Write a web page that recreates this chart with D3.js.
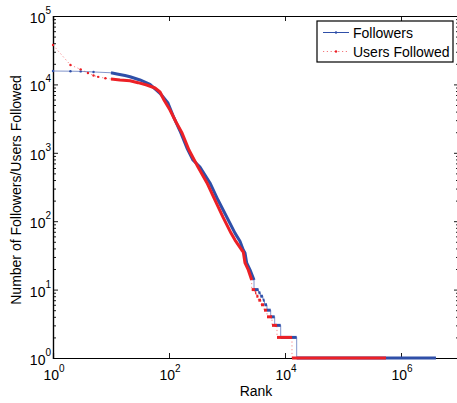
<!DOCTYPE html>
<html>
<head>
<meta charset="utf-8">
<script src="https://cdn.jsdelivr.net/npm/d3@7"></script>
<style>
  body { margin: 0; background: #fff; }
  text { font-family: "Liberation Sans", Arial, Helvetica, sans-serif; fill: #000; }
</style>
</head>
<body>
<div id="main"></div>
<script>
// tick labels (exponents of 10)
var xTickExp = [0, 2, 4, 6];
var yTickExp = [0, 1, 2, 3, 4, 5];

// Followers: continuous part (rank, count)
var followersRank  = [1, 2, 3, 5, 10, 12.7, 17.4, 21.3, 31.6, 47, 70, 96, 122, 155, 204, 259, 342, 509, 700, 980, 1374, 1675, 1910, 2044, 2186, 2493, 2924];
var followersCount = [15700, 15600, 15500, 15200, 14800, 14200, 13500, 12950, 11600, 10000, 7410, 5350, 3230, 2080, 1175, 785, 620, 362, 204, 117, 67, 51, 38, 34.3, 24.5, 19.4, 13.8];
// Followers: integer tail, value and the rank where that value ends
var followersStepValue = [10, 9, 8, 7, 6, 5, 4, 3, 2, 1];
var followersStepEnd   = [3494, 3763, 4160, 4434, 4896, 5668, 6640, 8427, 15900, 4000000];

// Users Followed
var followedRank  = [1, 2, 3, 4, 5, 6, 8, 10, 14.3, 21.3, 29.2, 41.3, 57.3, 70, 82, 104, 132, 168, 221, 316, 452, 621, 853, 1172, 1374, 1791, 1910, 2044, 2329, 2665];
var followedCount = [37700, 19200, 16600, 14700, 13500, 12900, 12300, 12000, 11600, 11300, 10600, 9800, 8860, 7740, 5920, 4230, 2820, 1945, 1100, 620, 362, 204, 115, 67, 53, 38, 35.5, 24.5, 19.4, 13.8];
var followedStepValue = [10, 9, 8, 7, 6, 5, 4, 3, 2, 1];
var followedStepEnd   = [3050, 3200, 3470, 3857, 4345, 4896, 5965, 7275, 13200, 551000];

var seriesNames = ["Followers", "Users Followed"];

var ctx = {
    w: 457, h: 403,
    left: 53, right: 459, top: 16, bottom: 358,
    blue: "#2f4fa8",
    red: "#ec2026"
};

var buildSeries = function(ranks, counts, stepValues, stepEnds) {
    var pts = ranks.map(function(r, i) { return {r: r, v: counts[i]}; });
    var start = ranks[ranks.length - 1];
    stepValues.forEach(function(v, i) {
        pts.push({r: start, v: v});
        pts.push({r: stepEnds[i], v: v});
        start = stepEnds[i];
    });
    return pts;
};

// runs of points where markers are dense enough to look like a thick band
var thickRuns = function(pts) {
    var runs = [], cur = null;
    for (var i = 0; i < pts.length - 1; i++) {
        var a = pts[i], b = pts[i + 1];
        if (a.r !== b.r && a.r >= 10) {
            if (!cur) { cur = [a]; runs.push(cur); }
            cur.push(b);
        } else {
            cur = null;
        }
    }
    return runs;
};

var svg = d3.select("#main").append("svg")
    .attr("width", ctx.w).attr("height", ctx.h);
svg.append("rect").attr("width", ctx.w).attr("height", ctx.h).attr("fill", "#fff");

var x = d3.scaleLog().domain([1, 1e7]).range([ctx.left, ctx.right]);
var y = d3.scaleLog().domain([1, 1e5]).range([ctx.bottom, ctx.top]);

// axes box and ticks (inward, mirrored)
var xTickVals = xTickExp.map(function(e) { return Math.pow(10, e); });
var yTickVals = yTickExp.map(function(e) { return Math.pow(10, e); });
var yMinor = [];
for (var k = 0; k < 5; k++) for (var m = 2; m < 10; m++) yMinor.push(m * Math.pow(10, k));

var axisG = svg.append("g");
axisG.append("g").attr("transform", "translate(0," + ctx.bottom + ")")
    .call(d3.axisBottom(x).tickValues(xTickVals).tickSize(-5).tickFormat(""));
axisG.append("g").attr("transform", "translate(0," + ctx.top + ")")
    .call(d3.axisTop(x).tickValues(xTickVals).tickSize(-5).tickFormat(""));
axisG.append("g").attr("transform", "translate(" + ctx.left + ",0)")
    .call(d3.axisLeft(y).tickValues(yTickVals).tickSize(-5).tickFormat(""));
axisG.append("g").attr("transform", "translate(" + ctx.left + ",0)")
    .call(d3.axisLeft(y).tickValues(yMinor).tickSize(-3).tickFormat(""));
axisG.append("g").attr("transform", "translate(" + ctx.right + ",0)")
    .call(d3.axisRight(y).tickValues(yTickVals).tickSize(-5).tickFormat(""));
axisG.append("g").attr("transform", "translate(" + ctx.right + ",0)")
    .call(d3.axisRight(y).tickValues(yMinor).tickSize(-3).tickFormat(""));
axisG.selectAll(".domain").attr("stroke", "#000").attr("stroke-width", 1.2);
axisG.selectAll(".tick line").attr("stroke", "#000").attr("stroke-width", 0.9);

// tick labels with superscript exponents
var xLab = svg.append("g").selectAll("text").data(xTickExp).enter().append("text")
    .attr("x", function(e) { return x(Math.pow(10, e)) + 1; })
    .attr("y", ctx.bottom + 22)
    .attr("text-anchor", "middle")
    .style("font-size", "14px");
xLab.append("tspan").text("10");
xLab.append("tspan").attr("dy", -8).style("font-size", "10px").text(function(e) { return e; });

var yLab = svg.append("g").selectAll("text").data(yTickExp).enter().append("text")
    .attr("x", ctx.left - 2)
    .attr("y", function(e) { return y(Math.pow(10, e)) + 7; })
    .attr("text-anchor", "end")
    .style("font-size", "14px");
yLab.append("tspan").text("10");
yLab.append("tspan").attr("dy", -9).style("font-size", "10px").text(function(e) { return e; });

// axis titles
svg.append("text")
    .attr("x", (ctx.left + ctx.right) / 2).attr("y", 396)
    .attr("text-anchor", "middle").style("font-size", "14px").text("Rank");
svg.append("text")
    .attr("transform", "translate(21," + ((ctx.top + ctx.bottom) / 2 + 3) + ") rotate(-90)")
    .attr("text-anchor", "middle").style("font-size", "14px")
    .text("Number of Followers/Users Followed");

// data
var line = d3.line().x(function(d) { return x(d.r); }).y(function(d) { return y(d.v); });

var series = [
    {name: seriesNames[0], color: ctx.blue, dash: null, thinOpacity: 0.6,
     head: followersRank,
     pts: buildSeries(followersRank, followersCount, followersStepValue, followersStepEnd)},
    {name: seriesNames[1], color: ctx.red, dash: "1.2,2.6", thinOpacity: 0.55,
     head: followedRank,
     pts: buildSeries(followedRank, followedCount, followedStepValue, followedStepEnd)}
];

series.forEach(function(s) {
    var g = svg.append("g");
    g.append("path").datum(s.pts)
        .attr("d", line)
        .attr("fill", "none")
        .attr("stroke", s.color)
        .attr("stroke-width", 1)
        .attr("stroke-opacity", s.thinOpacity)
        .attr("stroke-dasharray", s.dash);
    g.selectAll("path.band").data(thickRuns(s.pts)).enter().append("path")
        .attr("class", "band")
        .attr("d", line)
        .attr("fill", "none")
        .attr("stroke", s.color)
        .attr("stroke-width", 3)
        .attr("stroke-linejoin", "round");
    g.selectAll("circle").data(s.pts.filter(function(d) { return d.r < 10; })).enter().append("circle")
        .attr("cx", function(d) { return x(d.r); })
        .attr("cy", function(d) { return y(d.v); })
        .attr("r", 1.2)
        .attr("fill", s.color);
});

// legend
var legend = svg.append("g").attr("transform", "translate(317,21)");
legend.append("rect").attr("width", 136).attr("height", 41)
    .attr("fill", "#fff").attr("stroke", "#000").attr("stroke-width", 1.2);
series.forEach(function(s, i) {
    var yy = 11.5 + i * 19;
    legend.append("line")
        .attr("x1", 6).attr("x2", 32).attr("y1", yy).attr("y2", yy)
        .attr("stroke", s.color).attr("stroke-width", 1)
        .attr("stroke-opacity", i === 0 ? 1 : 0.6)
        .attr("stroke-dasharray", s.dash);
    legend.append("circle").attr("cx", 19).attr("cy", yy).attr("r", 1.2).attr("fill", s.color);
    legend.append("text").attr("x", 36).attr("y", yy + 5)
        .style("font-size", "14px").text(s.name);
});
</script>
</body>
</html>
